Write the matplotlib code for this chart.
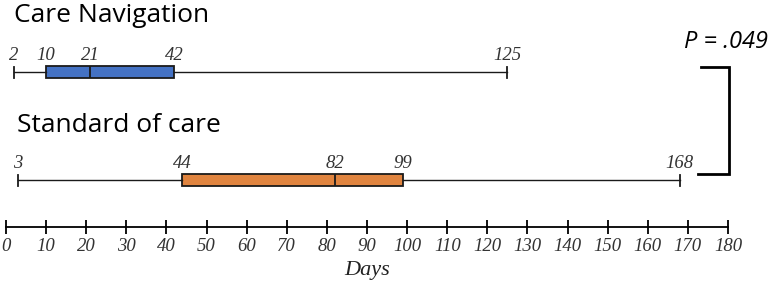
import matplotlib
matplotlib.use("Agg")
import matplotlib.pyplot as plt

groups = ["Care Navigation", "Standard of care"]
minimum = [2, 3]
q1 = [10, 44]
median = [21, 82]
q3 = [42, 99]
maximum = [125, 168]
colors = ["#4472C4", "#E0843F"]
p_text = "P = .049"
xticks = list(range(0, 181, 10))

fig = plt.figure(figsize=(7.71, 2.82), dpi=100)
ax = fig.add_axes([0, 0, 1, 1])
ax.set_xlim(-6 / 4.011, 765 / 4.011)
ax.set_ylim(282, 0)

rows = [72, 180]
title_y = [15, 126]
title_x = [14, 17]

stats = []
for i in range(2):
    stats.append(dict(whislo=minimum[i], q1=q1[i], med=median[i], q3=q3[i],
                      whishi=maximum[i], fliers=[], label=groups[i]))
bp = ax.bxp(stats, positions=rows, widths=12, vert=False, patch_artist=True,
            showfliers=False, capwidths=11, manage_ticks=False,
            boxprops=dict(linewidth=1.3, edgecolor="#1a1a1a"),
            medianprops=dict(color="#1a1a1a", linewidth=1.3),
            whiskerprops=dict(color="#1a1a1a", linewidth=1.0),
            capprops=dict(color="#1a1a1a", linewidth=1.3))
for patch, c in zip(bp["boxes"], colors):
    patch.set_facecolor(c)

serif = dict(family="Liberation Serif", style="italic", color="#333333")
for i in range(2):
    for v in [minimum[i], q1[i], median[i], q3[i], maximum[i]]:
        ax.text(v, rows[i] - 17, str(v), ha="center", va="center", fontsize=13.5, **serif)
    ax.text(title_x[i] / 4.011 - 1.5, title_y[i], groups[i], ha="left", va="center",
            fontsize=19, family="Open Sans", color="black")

ax.text(179.5, 42, p_text, ha="center", va="center", fontsize=17,
        family="Open Sans", style="italic", color="black")
ax.plot([173.3, 180.2, 180.2, 172.5], [67, 67, 174, 174], color="black", lw=2,
        solid_joinstyle="miter")

for s in ["top", "right", "left"]:
    ax.spines[s].set_visible(False)
ax.spines["bottom"].set_position(("data", 227))
ax.spines["bottom"].set_bounds(0, 180)
ax.spines["bottom"].set_linewidth(1.3)
ax.set_yticks([])
ax.set_xticks(xticks)
ax.set_xticklabels([str(t) for t in xticks])
ax.tick_params(axis="x", direction="inout", length=10, width=1.3, pad=3, labelsize=13.5,
               labelcolor="#333333")
for lbl in ax.get_xticklabels():
    lbl.set_family("Liberation Serif")
    lbl.set_style("italic")
ax.text(90, 271, "Days", ha="center", va="center", fontsize=16, **{**serif, "color": "#222222"})
ax.patch.set_visible(False)

fig.savefig("out.png", dpi=100)
